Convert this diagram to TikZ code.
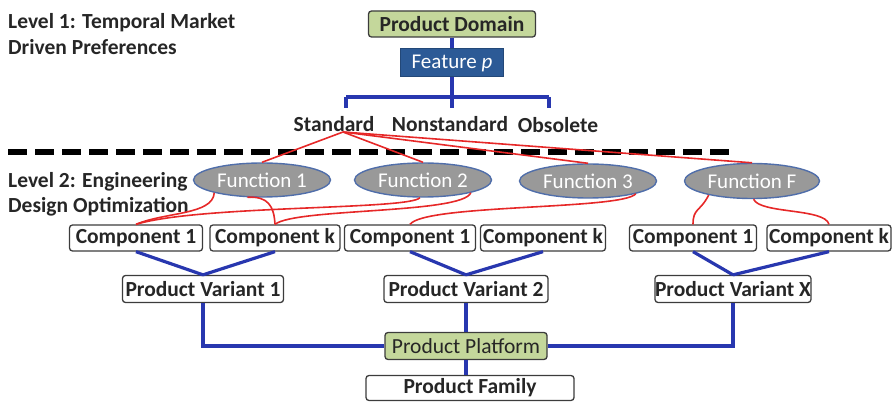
\documentclass[tikz,border=0pt]{standalone}
\usepackage{fontspec}
\setmainfont{Carlito}
\usetikzlibrary{shapes.geometric}
\definecolor{domgreen}{RGB}{196,215,155}
\definecolor{featblue}{RGB}{44,90,150}
\definecolor{busblue}{RGB}{40,55,175}
\definecolor{fungray}{RGB}{153,153,153}
\definecolor{funborder}{RGB}{80,110,170}
\definecolor{linkred}{RGB}{230,40,40}
\definecolor{boxborder}{RGB}{60,60,60}
\definecolor{txt}{RGB}{38,38,38}
\tikzset{
  x=1pt, y=-1pt,
  lab/.style={font=\fontsize{21.5}{26}\selectfont\bfseries, text=txt, inner sep=0pt},
  wbox/.style={draw=boxborder, line width=1.3pt, rounded corners=3pt, fill=white, inner sep=0pt,
     minimum height=26pt, text=txt, font=\fontsize{21.5}{25}\selectfont\bfseries},
  gbox/.style={wbox, fill=domgreen},
  fbox/.style={draw=featblue!80!black, line width=1pt, fill=featblue, text=white, inner sep=0pt,
     minimum height=28pt, minimum width=103pt, font=\fontsize{21}{25}\selectfont},
  func/.style={ellipse, draw=funborder, line width=1.4pt, fill=fungray, text=white, inner sep=0pt,
     minimum width=137pt, minimum height=34pt, font=\fontsize{21}{25}\selectfont},
  blueline/.style={draw=busblue, line width=3.2pt},
  redline/.style={draw=linkred, line width=1.6pt},
}
\begin{document}
\begin{tikzpicture}
\useasboundingbox (0,0) rectangle (895,403);

% Level texts
\node[lab, anchor=base west] (lv1a) at (8,29) {Level 1: Temporal Market};
\node[lab, anchor=base west] (lv1b) at (8,55) {Driven Preferences};
\node[lab, anchor=base west] (lv2a) at (8,188) {Level 2: Engineering};
\node[lab, anchor=base west] (lv2b) at (8,213) {Design Optimization};

% top tree
\node[gbox, minimum width=167pt] (dom) at (452,24) {Product Domain};
\node[fbox] (feat) at (452,63) {Feature \textit{p}};
\node[lab] (std) at (334,124) {Standard};
\node[lab] (nst) at (450,124) {Nonstandard};
\node[lab] (obs) at (558,125) {Obsolete};

\coordinate (bus) at (452,97);
\coordinate (bl) at (346,97);
\coordinate (br) at (549,97);
\draw[blueline] (dom.south) -- (feat.north);
\draw[blueline] (feat.south) -- (bus);
\draw[blueline] (bl) -- (br);
\draw[blueline] (bl) -- ++(0,11);
\draw[blueline] (bus) -- ++(0,11);
\draw[blueline] (br) -- ++(0,11);

% dashed separator
\coordinate (dl) at (8,152);
\coordinate (dr) at (735,152);
\draw[line width=6pt, dash pattern=on 19pt off 8pt] (dl) -- (dr);

% functions
\node[func] (f1) at (262,180) {Function 1};
\node[func] (f2) at (423,180) {Function 2};
\node[func] (f3) at (588,181) {Function 3};
\node[func, minimum width=135pt, minimum height=35pt] (f4) at (752,181) {Function F};

% components
\node[wbox, minimum width=133pt] (c1a) at (136,238) {Component 1};
\node[wbox, minimum width=130pt] (cka) at (275,238) {Component k};
\node[wbox, minimum width=131pt] (c1b) at (410,238) {Component 1};
\node[wbox, minimum width=125pt] (ckb) at (543,238) {Component k};
\node[wbox, minimum width=127pt] (c1c) at (693,238) {Component 1};
\node[wbox, minimum width=124pt] (ckc) at (829,238) {Component k};

% variants
\node[wbox, minimum width=161pt, minimum height=27pt] (pv1) at (203,289) {Product Variant 1};
\node[wbox, minimum width=164pt, minimum height=27pt] (pv2) at (466,289) {Product Variant 2};
\node[wbox, minimum width=150pt, minimum height=27pt] (pvx) at (733,289) {Product Variant X};
\node[gbox, minimum width=162pt, minimum height=27pt, font=\fontsize{21.5}{25}\selectfont] (plat) at (466,346) {Product Platform};
\node[wbox, minimum width=208pt, minimum height=25pt] (fam) at (470,388) {Product Family};

% red links from Standard
\coordinate (so) at (343,132);
\draw[redline] (so) -- (f1.north);
\draw[redline] (so) -- (f2.north);
\draw[redline] (so) -- (f3.north);
\draw[redline] (so) -- (f4.north);

% red links functions -> components
\draw[redline] (f1.195) .. controls (213,215) and (165,212) .. (c1a.north);
\draw[redline] (f1.230) .. controls (268,196) and (274,206) .. (cka.north);
\draw[redline] (f2.260) .. controls (410,210) and (200,205) .. (c1a.north);
\draw[redline] (f2.345) .. controls (462,214) and (295,208) .. (cka.north);
\draw[redline] (f3.345) .. controls (622,210) and (425,204) .. (c1b.north);
\draw[redline] (f4.198) .. controls (700,212) and (693,208) .. (c1c.north);
\draw[redline] (f4.275) .. controls (760,214) and (825,208) .. (ckc.north);

% blue links components -> variants
\draw[blueline] (c1a.south) -- (pv1.north);
\draw[blueline] (cka.south) -- (pv1.north);
\draw[blueline] (c1b.south) -- (pv2.north);
\draw[blueline] (ckb.south) -- (pv2.north);
\draw[blueline] (c1c.south) -- (pvx.north);
\draw[blueline] (ckc.south) -- (pvx.north);

% variants -> platform -> family
\draw[blueline] (pv1.south) |- (plat.west);
\draw[blueline] (pv2.south) -- (plat.north);
\draw[blueline] (pvx.south) |- (plat.east);
\draw[blueline] (plat.south) -- (plat.south |- fam.north);
\end{tikzpicture}
\end{document}
